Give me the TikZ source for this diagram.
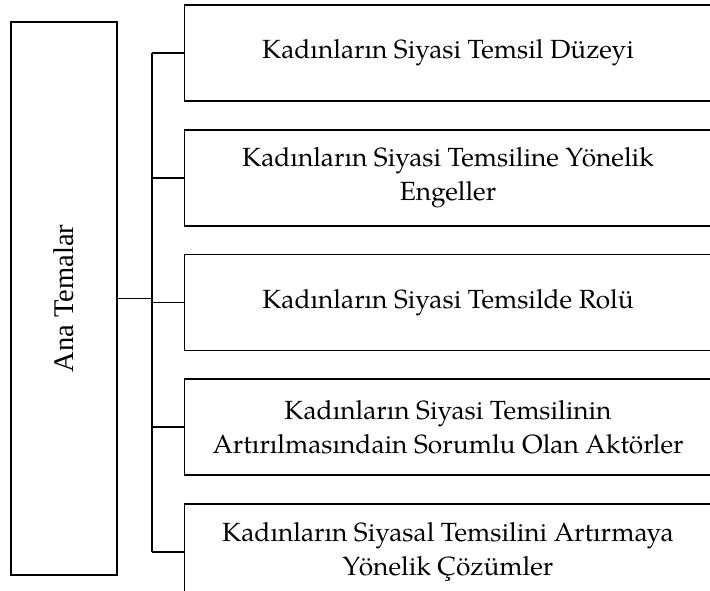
\documentclass[tikz,border=0pt]{standalone}
\usepackage{fontspec}
\setmainfont{texgyrepagella-regular.otf}
\newfontfamily\labelfont{Liberation Serif}
\usetikzlibrary{positioning}
\tikzset{
  theme/.style={draw, line width=1.7pt, minimum width=527pt, minimum height=96pt,
    inner sep=0pt, align=center, font=\fontsize{26.3}{34}\selectfont},
  link/.style={line width=1.7pt}
}
\begin{document}
\begin{tikzpicture}[x=1pt,y=-1pt]
  \useasboundingbox (0,0) rectangle (710,591);
  \node[draw, line width=1.7pt, minimum width=106pt, minimum height=553pt] (main) at (64,298.5) {};
  \node[rotate=90, font=\labelfont\fontsize{28.5}{34}\selectfont] (mainlabel) at (main.center) {Ana Temalar};
  \node[theme] (t1) at (448,53) {Kadınların Siyasi Temsil Düzeyi};
  \node[theme, below=27pt of t1] (t2) {Kadınların Siyasi Temsiline Yönelik\\Engeller};
  \node[theme, below=27pt of t2] (t3) {Kadınların Siyasi Temsilde Rolü};
  \node[theme, below=27pt of t3] (t4) {Kadınların Siyasi Temsilinin\\Artırılmasındain Sorumlu Olan Aktörler};
  \node[theme, below=27pt of t4] (t5) {Kadınların Siyasal Temsilini Artırmaya\\Yönelik Çözümler};
  \coordinate (bus) at (152,0);
  \draw[link] (main.east) -- (main.east -| bus);
  \draw[link] (t1.west -| bus) -- (t5.west -| bus);
  \foreach \i in {1,...,5}
    \draw[link] (t\i.west) -- (t\i.west -| bus);
\end{tikzpicture}
\end{document}
